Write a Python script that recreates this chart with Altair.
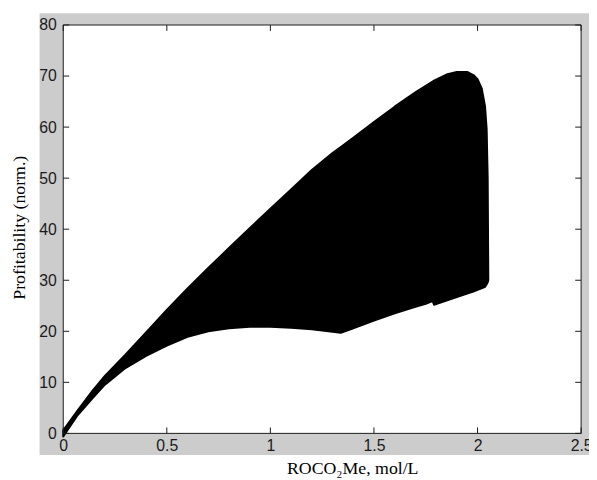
import altair as alt
import pandas as pd

# ---- data ----
x_vals = [0, 0.07, 0.14, 0.2, 0.3, 0.4, 0.5, 0.6, 0.7, 0.8, 0.9, 1.0, 1.1, 1.2, 1.3, 1.34,
          1.4, 1.5, 1.6, 1.7, 1.75, 1.783, 1.79, 1.85, 1.9, 1.95, 1.98, 2.0, 2.02, 2.036, 2.044,
          2.049, 2.052]
upper_vals = [0.6, 4.5, 8.3, 11.2, 15.4, 19.8, 24.2, 28.4, 32.4, 36.3, 40.2, 44.0, 47.8, 51.6,
              54.9, 56.1, 57.9, 61.0, 64.0, 66.8, 68.1, 68.9, 69.1, 70.3, 70.8, 70.8, 70.2,
              69.4, 67.6, 64.1, 59.6, 50.0, 30.0]
lower_vals = [-0.6, 3.6, 6.8, 9.5, 12.8, 15.2, 17.2, 18.9, 20.0, 20.6, 20.9, 20.9, 20.7, 20.4,
              19.9, 19.7, 20.6, 22.1, 23.5, 24.8, 25.4, 25.9, 25.2, 26.0, 26.7, 27.4, 27.8,
              28.1, 28.4, 28.7, 29.2, 29.6, 30.0]
x_ticks = [0, 0.5, 1, 1.5, 2, 2.5]
y_ticks = [0, 10, 20, 30, 40, 50, 60, 70, 80]

W, H = 525, 414
TICK = 6
FRAME = "#1a1a1a"

df = pd.DataFrame({"x": x_vals, "upper": upper_vals, "lower": lower_vals})
xt = pd.DataFrame({"x": x_ticks})
yt = pd.DataFrame({"upper": y_ticks})
one = pd.DataFrame({"a": [0]})

xscale = alt.Scale(domain=[0, 2.5], nice=False, zero=False)
yscale = alt.Scale(domain=[0, 80], nice=False)

xaxis = alt.Axis(values=x_ticks, format="~g", domain=False, ticks=False, grid=False,
                 labelFont="Liberation Sans", labelFontSize=16, labelColor="#1a1a1a",
                 labelPadding=4, labelFlush=False, labelOverlap=False,
                 title="ROCO₂Me, mol/L", titleFont="Liberation Serif", titleFontSize=18,
                 titleFontWeight="normal", titleColor="black", titleX=293, titleY=41,
                 titleAlign="center", titleBaseline="alphabetic", zindex=1)
yaxis = alt.Axis(values=y_ticks, format="d", domain=False, ticks=False, grid=False,
                 labelFont="Liberation Sans", labelFontSize=16, labelColor="#1a1a1a",
                 labelPadding=7, labelFlush=False, labelOverlap=False,
                 title="Profitability  (norm.)", titleFont="Liberation Serif", titleFontSize=18,
                 titleFontWeight="normal", titleColor="black", titleAngle=270,
                 titleX=-39, titleY=205, titleAlign="center", titleBaseline="alphabetic",
                 zindex=1)

X = alt.X("x:Q", scale=xscale, axis=xaxis)
Y = alt.Y("upper:Q", scale=yscale, axis=yaxis)

gray_bg = alt.Chart(one).mark_rect(color="#cccccc").encode(
    x=alt.value(-24), x2=alt.value(533), y=alt.value(-12), y2=alt.value(436))
white_bg = alt.Chart(one).mark_rect(color="white").encode(
    x=alt.value(0), x2=alt.value(W), y=alt.value(0), y2=alt.value(H))

area = alt.Chart(df).mark_area(color="black", opacity=1, interpolate="linear",
                               stroke="black", strokeWidth=2, strokeJoin="round").encode(
    x=X, y=Y, y2="lower:Q",
)

xt_bottom = alt.Chart(xt).mark_rule(color=FRAME).encode(
    x=X, y=alt.value(H), y2=alt.value(H - TICK))
xt_top = alt.Chart(xt).mark_rule(color=FRAME).encode(
    x=X, y=alt.value(0), y2=alt.value(TICK))
yt_left = alt.Chart(yt).mark_rule(color=FRAME).encode(
    y=Y, x=alt.value(0), x2=alt.value(TICK))
yt_right = alt.Chart(yt).mark_rule(color=FRAME).encode(
    y=Y, x=alt.value(W), x2=alt.value(W - TICK))

frame = alt.Chart(one).mark_rect(fillOpacity=0, stroke=FRAME, strokeWidth=1).encode(
    x=alt.value(0), x2=alt.value(W), y=alt.value(0), y2=alt.value(H))

chart = alt.layer(gray_bg, white_bg, area, xt_bottom, xt_top, yt_left, yt_right, frame).properties(
    width=W, height=H,
    padding={"left": 56, "top": 14, "right": 8, "bottom": 42},
    autosize="none",
).configure(background="white").configure_view(strokeWidth=0)

chart.save("out.html", embed_options={"renderer": "svg", "actions": False})
